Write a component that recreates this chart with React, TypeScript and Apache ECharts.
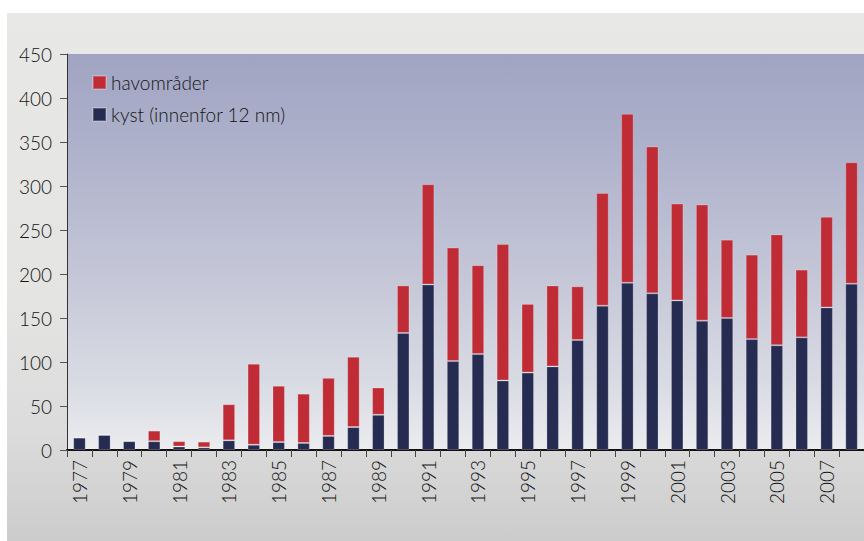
import React, { useEffect, useRef } from "react";
import * as echarts from "echarts";

const years = [
  "1977", "1978", "1979", "1980", "1981", "1982", "1983", "1984", "1985", "1986",
  "1987", "1988", "1989", "1990", "1991", "1992", "1993", "1994", "1995", "1996",
  "1997", "1998", "1999", "2000", "2001", "2002", "2003", "2004", "2005", "2006",
  "2007", "2008",
];
const kyst = [
  14, 17, 10, 10, 4, 3, 11, 6, 9, 8,
  16, 26, 40, 133, 188, 101, 109, 79, 88, 95,
  125, 164, 190, 178, 170, 147, 150, 126, 119, 128,
  162, 189,
];
const havomrader = [
  1, 1, 1, 12, 6, 6.5, 41, 92, 64, 56,
  66, 80, 31, 54, 114, 129, 101, 155, 78, 92,
  61, 128, 192, 167, 110, 132, 89, 96, 126, 77,
  103, 138,
];
const seriesNames = ["havområder", "kyst (innenfor 12 nm)"];

const FONT = "Lato, 'Open Sans', sans-serif";
const WEIGHT = 300;
const TEXT = "#141414";

export default function App() {
  const ref = useRef<HTMLDivElement>(null);
  useEffect(() => {
    if (!ref.current) return;
    const chart = echarts.init(ref.current, undefined, { renderer: "svg" });
    chart.setOption({
      animation: false,
      textStyle: { fontFamily: FONT, fontWeight: WEIGHT },
      legend: {
        orient: "vertical",
        left: 92,
        top: 73,
        padding: 0,
        itemWidth: 13,
        itemHeight: 13,
        itemGap: 13,
        icon: "rect",
        data: [seriesNames[0], seriesNames[1]],
        textStyle: { fontFamily: FONT, fontWeight: WEIGHT, fontSize: 19, color: TEXT },
      },
      grid: {
        left: 67,
        top: 54,
        bottom: 91,
        right: -5.6,
        show: true,
        borderWidth: 0,
        backgroundColor: new echarts.graphic.LinearGradient(0, 0, 0, 1, [
          { offset: 0, color: "#a0a4c2" },
          { offset: 0.27, color: "#b0b3cc" },
          { offset: 0.55, color: "#c4c6d7" },
          { offset: 0.82, color: "#d8dae3" },
          { offset: 1, color: "#ebecef" },
        ]),
      },
      xAxis: {
        type: "category",
        data: years,
        axisLine: { show: true, lineStyle: { color: "#111", width: 2 } },
        axisTick: { show: true, interval: 0, length: 7, lineStyle: { color: "#444", width: 1 } },
        axisLabel: {
          interval: 1,
          rotate: 90,
          margin: 10,
          fontFamily: FONT,
          fontWeight: WEIGHT,
          fontSize: 19,
          color: TEXT,
        },
      },
      yAxis: {
        type: "value",
        min: 0,
        max: 450,
        interval: 50,
        splitLine: { show: false },
        axisLine: { show: true, lineStyle: { color: "#333", width: 1 } },
        axisTick: { show: true, length: 7, lineStyle: { color: "#555", width: 1 } },
        axisLabel: { margin: 15, fontFamily: FONT, fontWeight: WEIGHT, fontSize: 19, color: TEXT },
      },
      series: [
        {
          name: seriesNames[1],
          type: "bar",
          stack: "total",
          barWidth: "50%",
          data: kyst,
          itemStyle: { color: "#262b52", borderColor: "rgba(255,255,255,0.22)", borderWidth: 1 },
        },
        {
          name: seriesNames[0],
          type: "bar",
          stack: "total",
          barWidth: "50%",
          data: havomrader,
          itemStyle: { color: "#c02c35", borderColor: "rgba(255,255,255,0.22)", borderWidth: 1 },
        },
      ],
    });
    return () => chart.dispose();
  }, []);

  return (
    <div style={{ position: "absolute", left: 0, top: 0, width: 864, height: 541, background: "#fff", overflow: "hidden" }}>
      <div
        style={{
          position: "absolute",
          left: 7,
          top: 13,
          right: 0,
          bottom: 0,
          background: "linear-gradient(to bottom, #e8e8e6 0%, #e4e4e3 55%, #dbdbdb 80%, #cccccc 100%)",
        }}
      />
      <div ref={ref} style={{ position: "absolute", left: 0, top: 0, width: 864, height: 541 }} />
    </div>
  );
}
